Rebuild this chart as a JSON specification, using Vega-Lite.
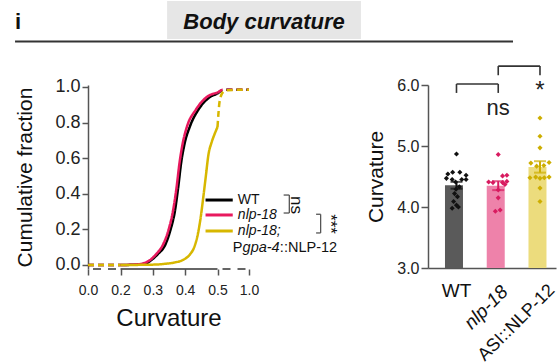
{
  "$schema": "https://vega.github.io/schema/vega-lite/v6.json",
  "padding": 0,
  "background": "white",
  "config": {
    "font": "Liberation Sans",
    "view": {"stroke": null},
    "axis": {"grid": false, "domainColor": "#555", "tickColor": "#555", "labelColor": "#222", "titleColor": "#111", "titleFontWeight": "normal", "domainWidth": 1.5, "tickWidth": 1.5, "labelOverlap": false, "labelFlush": false}
  },
  "datasets": {
    "curves": [
      {"strain": "WT", "part": "lo", "curvature": 0, "fraction": 0},
      {"strain": "WT", "part": "lo", "curvature": 0.2, "fraction": 0},
      {"strain": "WT", "part": "mid", "curvature": 0.2, "fraction": 0},
      {"strain": "WT", "part": "mid", "curvature": 0.25, "fraction": 0.002},
      {"strain": "WT", "part": "mid", "curvature": 0.28, "fraction": 0.01},
      {"strain": "WT", "part": "mid", "curvature": 0.297, "fraction": 0.03},
      {"strain": "WT", "part": "mid", "curvature": 0.315, "fraction": 0.06},
      {"strain": "WT", "part": "mid", "curvature": 0.34, "fraction": 0.12},
      {"strain": "WT", "part": "mid", "curvature": 0.355, "fraction": 0.2},
      {"strain": "WT", "part": "mid", "curvature": 0.368, "fraction": 0.3},
      {"strain": "WT", "part": "mid", "curvature": 0.378, "fraction": 0.43},
      {"strain": "WT", "part": "mid", "curvature": 0.388, "fraction": 0.58},
      {"strain": "WT", "part": "mid", "curvature": 0.398, "fraction": 0.68},
      {"strain": "WT", "part": "mid", "curvature": 0.415, "fraction": 0.78},
      {"strain": "WT", "part": "mid", "curvature": 0.44, "fraction": 0.87},
      {"strain": "WT", "part": "mid", "curvature": 0.478, "fraction": 0.945},
      {"strain": "WT", "part": "mid", "curvature": 0.5, "fraction": 0.962},
      {"strain": "WT", "part": "hi", "curvature": 0.5, "fraction": 0.962},
      {"strain": "WT", "part": "hi", "curvature": 0.55, "fraction": 0.978},
      {"strain": "WT", "part": "hi", "curvature": 0.6, "fraction": 0.984},
      {"strain": "WT", "part": "hi", "curvature": 1.0, "fraction": 0.985},
      {"strain": "nlp-18", "part": "lo", "curvature": 0, "fraction": 0},
      {"strain": "nlp-18", "part": "lo", "curvature": 0.2, "fraction": 0},
      {"strain": "nlp-18", "part": "mid", "curvature": 0.2, "fraction": 0},
      {"strain": "nlp-18", "part": "mid", "curvature": 0.25, "fraction": 0.003},
      {"strain": "nlp-18", "part": "mid", "curvature": 0.275, "fraction": 0.012},
      {"strain": "nlp-18", "part": "mid", "curvature": 0.293, "fraction": 0.03},
      {"strain": "nlp-18", "part": "mid", "curvature": 0.31, "fraction": 0.06},
      {"strain": "nlp-18", "part": "mid", "curvature": 0.333, "fraction": 0.12},
      {"strain": "nlp-18", "part": "mid", "curvature": 0.349, "fraction": 0.2},
      {"strain": "nlp-18", "part": "mid", "curvature": 0.362, "fraction": 0.3},
      {"strain": "nlp-18", "part": "mid", "curvature": 0.373, "fraction": 0.43},
      {"strain": "nlp-18", "part": "mid", "curvature": 0.383, "fraction": 0.58},
      {"strain": "nlp-18", "part": "mid", "curvature": 0.392, "fraction": 0.68},
      {"strain": "nlp-18", "part": "mid", "curvature": 0.406, "fraction": 0.78},
      {"strain": "nlp-18", "part": "mid", "curvature": 0.432, "fraction": 0.87},
      {"strain": "nlp-18", "part": "mid", "curvature": 0.468, "fraction": 0.945},
      {"strain": "nlp-18", "part": "mid", "curvature": 0.5, "fraction": 0.968},
      {"strain": "nlp-18", "part": "hi", "curvature": 0.5, "fraction": 0.968},
      {"strain": "nlp-18", "part": "hi", "curvature": 0.55, "fraction": 0.98},
      {"strain": "nlp-18", "part": "hi", "curvature": 0.58, "fraction": 0.985},
      {"strain": "nlp-18", "part": "hi", "curvature": 1.0, "fraction": 0.985},
      {"strain": "rescue", "part": "lo", "curvature": 0, "fraction": 0},
      {"strain": "rescue", "part": "lo", "curvature": 0.2, "fraction": 0},
      {"strain": "rescue", "part": "mid", "curvature": 0.2, "fraction": 0},
      {"strain": "rescue", "part": "mid", "curvature": 0.3, "fraction": 0.002},
      {"strain": "rescue", "part": "mid", "curvature": 0.344, "fraction": 0.008},
      {"strain": "rescue", "part": "mid", "curvature": 0.37, "fraction": 0.015},
      {"strain": "rescue", "part": "mid", "curvature": 0.395, "fraction": 0.03},
      {"strain": "rescue", "part": "mid", "curvature": 0.415, "fraction": 0.06},
      {"strain": "rescue", "part": "mid", "curvature": 0.428, "fraction": 0.1},
      {"strain": "rescue", "part": "mid", "curvature": 0.44, "fraction": 0.18},
      {"strain": "rescue", "part": "mid", "curvature": 0.449, "fraction": 0.28},
      {"strain": "rescue", "part": "mid", "curvature": 0.456, "fraction": 0.38},
      {"strain": "rescue", "part": "mid", "curvature": 0.464, "fraction": 0.5},
      {"strain": "rescue", "part": "mid", "curvature": 0.472, "fraction": 0.62},
      {"strain": "rescue", "part": "mid", "curvature": 0.482, "fraction": 0.69},
      {"strain": "rescue", "part": "mid", "curvature": 0.492, "fraction": 0.74},
      {"strain": "rescue", "part": "mid", "curvature": 0.5, "fraction": 0.775},
      {"strain": "rescue", "part": "hi", "curvature": 0.5, "fraction": 0.775},
      {"strain": "rescue", "part": "hi", "curvature": 0.53, "fraction": 0.91},
      {"strain": "rescue", "part": "hi", "curvature": 0.56, "fraction": 0.955},
      {"strain": "rescue", "part": "hi", "curvature": 0.59, "fraction": 0.972},
      {"strain": "rescue", "part": "hi", "curvature": 0.65, "fraction": 0.982},
      {"strain": "rescue", "part": "hi", "curvature": 1.0, "fraction": 0.985}
    ],
    "pts": [
      {"genotype": "WT", "curvature": 4.87, "slot": 0},
      {"genotype": "WT", "curvature": 4.54, "slot": -1.8},
      {"genotype": "WT", "curvature": 4.57, "slot": -0.8},
      {"genotype": "WT", "curvature": 4.57, "slot": 0.7},
      {"genotype": "WT", "curvature": 4.52, "slot": 2},
      {"genotype": "WT", "curvature": 4.47, "slot": -2.1},
      {"genotype": "WT", "curvature": 4.45, "slot": -0.9},
      {"genotype": "WT", "curvature": 4.45, "slot": 1.1},
      {"genotype": "WT", "curvature": 4.45, "slot": 2},
      {"genotype": "WT", "curvature": 4.41, "slot": -0.2},
      {"genotype": "WT", "curvature": 4.33, "slot": 0.6},
      {"genotype": "WT", "curvature": 4.29, "slot": -0.1},
      {"genotype": "WT", "curvature": 4.22, "slot": -0.4},
      {"genotype": "WT", "curvature": 4.17, "slot": 0.2},
      {"genotype": "WT", "curvature": 4.09, "slot": -0.6},
      {"genotype": "WT", "curvature": 4.03, "slot": 0},
      {"genotype": "WT", "curvature": 3.98, "slot": -0.9},
      {"genotype": "WT", "curvature": 4.0, "slot": 0.4},
      {"genotype": "nlp-18", "curvature": 4.86, "slot": 0},
      {"genotype": "nlp-18", "curvature": 4.51, "slot": 0.9},
      {"genotype": "nlp-18", "curvature": 4.52, "slot": 1.8},
      {"genotype": "nlp-18", "curvature": 4.41, "slot": -2},
      {"genotype": "nlp-18", "curvature": 4.4, "slot": -1.1},
      {"genotype": "nlp-18", "curvature": 4.4, "slot": 0.9},
      {"genotype": "nlp-18", "curvature": 4.42, "slot": 1.8},
      {"genotype": "nlp-18", "curvature": 4.37, "slot": 1.4},
      {"genotype": "nlp-18", "curvature": 4.28, "slot": 0},
      {"genotype": "nlp-18", "curvature": 4.15, "slot": 0},
      {"genotype": "nlp-18", "curvature": 3.93, "slot": -0.6},
      {"genotype": "nlp-18", "curvature": 3.95, "slot": 0.4},
      {"genotype": "ASI::NLP-12", "curvature": 5.46, "slot": 0},
      {"genotype": "ASI::NLP-12", "curvature": 5.16, "slot": 0},
      {"genotype": "ASI::NLP-12", "curvature": 4.97, "slot": 0},
      {"genotype": "ASI::NLP-12", "curvature": 4.72, "slot": -1.9},
      {"genotype": "ASI::NLP-12", "curvature": 4.67, "slot": -0.7},
      {"genotype": "ASI::NLP-12", "curvature": 4.68, "slot": 0.8},
      {"genotype": "ASI::NLP-12", "curvature": 4.73, "slot": 1.9},
      {"genotype": "ASI::NLP-12", "curvature": 4.48, "slot": -2.1},
      {"genotype": "ASI::NLP-12", "curvature": 4.49, "slot": -0.9},
      {"genotype": "ASI::NLP-12", "curvature": 4.47, "slot": 0},
      {"genotype": "ASI::NLP-12", "curvature": 4.48, "slot": 0.9},
      {"genotype": "ASI::NLP-12", "curvature": 4.49, "slot": 1.9},
      {"genotype": "ASI::NLP-12", "curvature": 4.31, "slot": 0},
      {"genotype": "ASI::NLP-12", "curvature": 4.09, "slot": 0}
    ]
  },
  "bounds": "flush",
  "spacing": 43,
  "vconcat": [
    {
      "width": 469,
      "height": 42,
      "data": {"values": [{}]},
      "layer": [
        {"mark": {"type": "rect", "fill": "white"},
         "encoding": {
           "x": {"datum": 0, "type": "quantitative", "scale": {"domain": [0, 1], "range": [-88, 469]}, "axis": null},
           "x2": {"datum": 1},
           "y": {"datum": 0, "type": "quantitative", "scale": {"domain": [0, 1]}, "axis": null},
           "y2": {"datum": 1}}},
        {"mark": {"type": "rect", "fill": "#e6e6e6"},
         "encoding": {"x": {"datum": 0.3}, "x2": {"datum": 0.648}, "y": {"datum": 0.071}, "y2": {"datum": 0.976}}},
        {"mark": {"type": "text", "text": "Body curvature", "fontSize": 22, "fontWeight": "bold", "fontStyle": "italic", "baseline": "alphabetic", "align": "center", "color": "#111"},
         "encoding": {"x": {"datum": 0.474}, "y": {"datum": 0.3}}},
        {"mark": {"type": "text", "text": "i", "fontSize": 22, "fontWeight": "bold", "baseline": "alphabetic", "align": "left", "color": "#111"},
         "encoding": {"x": {"datum": 0.027}, "y": {"datum": 0.3}}},
        {"mark": {"type": "rule", "color": "#333", "strokeWidth": 2},
         "encoding": {"x": {"datum": 0.027}, "x2": {"datum": 0.921}, "y": {"datum": 0.01}}}
      ]
    },
    {
      "bounds": "flush",
      "spacing": 90,
      "hconcat": [
        {
          "width": 250,
          "height": 184,
          "layer": [
            {"data": {"name": "curves"},
             "mark": {"type": "line", "interpolate": "monotone", "strokeWidth": 2.5},
             "encoding": {
               "x": {"field": "curvature", "type": "quantitative",
                     "scale": {"type": "linear", "domain": [0, 0.2, 0.5, 1.0], "range": [0, 32.5, 129.5, 161], "nice": false, "zero": false},
                     "axis": {"values": [0, 0.2, 0.3, 0.4, 0.5, 1.0], "format": ".1f", "domain": false, "tickSize": 6, "labelFontSize": 14, "labelPadding": 8, "labelOverlap": false, "title": "Curvature", "titleFontSize": 24, "titlePadding": 9}},
               "y": {"field": "fraction", "type": "quantitative",
                     "scale": {"domain": [-0.0225, 1.0112], "nice": false, "zero": false},
                     "axis": {"values": [0, 0.2, 0.4, 0.6, 0.8, 1], "tickCount": 6, "format": ".1f", "tickSize": 6, "labelFontSize": 18, "labelPadding": 2, "labelOverlap": false, "labelBound": false, "title": "Cumulative fraction", "titleFontSize": 21, "titlePadding": 19}},
               "color": {"field": "strain", "type": "nominal", "scale": {"domain": ["WT", "nlp-18", "rescue"], "range": ["#000000", "#e8195e", "#d7b700"]}, "legend": null},
               "strokeDash": {"field": "part", "type": "nominal", "scale": {"domain": ["lo", "mid", "hi"], "range": [[6, 4], [1, 0], [6, 4]]}, "legend": null}
             }},
            {"data": {"values": [{}]}, "mark": {"type": "rule", "color": "#333", "strokeWidth": 1.5},
             "encoding": {"x": {"datum": 0.2}, "x2": {"datum": 0.5}, "y": {"datum": -0.0225}}},
            {"data": {"values": [{}]}, "mark": {"type": "rule", "color": "#333", "strokeWidth": 1.5, "strokeDash": [8, 7], "strokeDashOffset": -5},
             "encoding": {"x": {"datum": 0}, "x2": {"datum": 0.2}, "y": {"datum": -0.0225}}},
            {"data": {"values": [{}]}, "mark": {"type": "rule", "color": "#333", "strokeWidth": 1.5, "strokeDash": [8, 7], "strokeDashOffset": -5},
             "encoding": {"x": {"datum": 0.5}, "x2": {"datum": 1.0}, "y": {"datum": -0.0225}}},
            {"data": {"values": [{}]}, "mark": {"type": "rule", "color": "#000000", "strokeWidth": 3},
             "encoding": {"x": {"datum": 0.463}, "x2": {"datum": 0.742}, "y": {"datum": 0.365}}},
            {"data": {"values": [{}]}, "mark": {"type": "rule", "color": "#e8195e", "strokeWidth": 3},
             "encoding": {"x": {"datum": 0.463}, "x2": {"datum": 0.742}, "y": {"datum": 0.281}}},
            {"data": {"values": [{}]}, "mark": {"type": "rule", "color": "#d7b700", "strokeWidth": 3},
             "encoding": {"x": {"datum": 0.463}, "x2": {"datum": 0.742}, "y": {"datum": 0.191}}},
            {"data": {"values": [{}]}, "mark": {"type": "text", "text": "WT", "fontSize": 14, "align": "left", "baseline": "middle", "color": "#111"},
             "encoding": {"x": {"datum": 0.823}, "y": {"datum": 0.365}}},
            {"data": {"values": [{}]}, "mark": {"type": "text", "text": "nlp-18", "fontSize": 14, "fontStyle": "italic", "align": "left", "baseline": "middle", "color": "#111"},
             "encoding": {"x": {"datum": 0.823}, "y": {"datum": 0.281}}},
            {"data": {"values": [{}]}, "mark": {"type": "text", "text": "nlp-18;", "fontSize": 14, "fontStyle": "italic", "align": "left", "baseline": "middle", "color": "#111"},
             "encoding": {"x": {"datum": 0.823}, "y": {"datum": 0.191}}},
            {"data": {"values": [{}]}, "mark": {"type": "text", "text": "P", "fontSize": 14.5, "align": "left", "baseline": "middle", "color": "#111"},
             "encoding": {"x": {"datum": 0.742}, "y": {"datum": 0.0955}}},
            {"data": {"values": [{}]}, "mark": {"type": "text", "text": "gpa-4", "fontSize": 14.5, "fontStyle": "italic", "align": "left", "baseline": "middle", "color": "#111"},
             "encoding": {"x": {"datum": 0.898}, "y": {"datum": 0.0955}}},
            {"data": {"values": [{}]}, "mark": {"type": "text", "text": "::NLP-12", "fontSize": 14.5, "align": "left", "baseline": "middle", "color": "#111"},
             "encoding": {"x": {"datum": 1.49}, "y": {"datum": 0.0955}}},
            {"data": {"values": [{}]}, "mark": {"type": "rule", "color": "#555", "strokeWidth": 1.3},
             "encoding": {"x": {"datum": 1.55}, "x2": {"datum": 1.64}, "y": {"datum": 0.393}}},
            {"data": {"values": [{}]}, "mark": {"type": "rule", "color": "#555", "strokeWidth": 1.3},
             "encoding": {"x": {"datum": 1.55}, "x2": {"datum": 1.64}, "y": {"datum": 0.292}}},
            {"data": {"values": [{}]}, "mark": {"type": "rule", "color": "#555", "strokeWidth": 1.3},
             "encoding": {"x": {"datum": 1.64}, "y": {"datum": 0.292}, "y2": {"datum": 0.393}}},
            {"data": {"values": [{}]}, "mark": {"type": "text", "text": "ns", "fontSize": 17, "angle": 90, "align": "center", "baseline": "middle", "color": "#111"},
             "encoding": {"x": {"datum": 1.75}, "y": {"datum": 0.337}}},
            {"data": {"values": [{}]}, "mark": {"type": "rule", "color": "#555", "strokeWidth": 1.3},
             "encoding": {"x": {"datum": 2.065}, "x2": {"datum": 2.137}, "y": {"datum": 0.285}}},
            {"data": {"values": [{}]}, "mark": {"type": "rule", "color": "#555", "strokeWidth": 1.3},
             "encoding": {"x": {"datum": 2.065}, "x2": {"datum": 2.137}, "y": {"datum": 0.18}}},
            {"data": {"values": [{}]}, "mark": {"type": "rule", "color": "#555", "strokeWidth": 1.3},
             "encoding": {"x": {"datum": 2.137}, "y": {"datum": 0.18}, "y2": {"datum": 0.285}}},
            {"data": {"values": [{}]}, "mark": {"type": "text", "text": "***", "fontSize": 17, "angle": 90, "align": "center", "baseline": "middle", "color": "#111"},
             "encoding": {"x": {"datum": 2.29}, "y": {"datum": 0.23}}}
          ]
        },
        {
          "width": 128,
          "height": 183,
          "layer": [
            {"data": {"name": "pts"},
             "mark": {"type": "bar"},
             "encoding": {
               "x": {"field": "genotype", "type": "nominal",
                     "scale": {"type": "band", "domain": ["WT", "nlp-18", "ASI::NLP-12"], "paddingInner": 0.449, "paddingOuter": 0.2575, "align": 0.79},
                     "axis": {"title": null, "labels": false, "ticks": false}},
               "y": {"aggregate": "mean", "field": "curvature", "type": "quantitative", "title": "Curvature",
                     "scale": {"domain": [3, 6], "nice": false, "zero": false},
                     "axis": {"values": [3, 4, 5, 6], "format": ".1f", "tickSize": 7, "labelFontSize": 16, "labelPadding": 2, "title": "Curvature", "titleFontSize": 21, "titlePadding": 10}},
               "y2": {"datum": 3},
               "color": {"field": "genotype", "type": "nominal", "scale": {"domain": ["WT", "nlp-18", "ASI::NLP-12"], "range": ["#5a5a5a", "#ee82aa", "#ecdc7d"]}, "legend": null}
             }},
            {"data": {"name": "pts"},
             "mark": {"type": "point", "filled": true, "shape": "diamond", "size": 26, "opacity": 1},
             "encoding": {
               "x": {"field": "genotype", "type": "nominal", "title": null},
               "xOffset": {"field": "slot", "type": "quantitative", "scale": {"domain": [-2.4, 2.4]}},
               "y": {"field": "curvature", "type": "quantitative", "title": "Curvature"},
               "color": {"field": "genotype", "type": "nominal", "scale": {"domain": ["WT", "nlp-18", "ASI::NLP-12"], "range": ["#111111", "#d81b60", "#cdae00"]}, "legend": null}
             }},
            {"data": {"name": "pts"},
             "mark": {"type": "errorbar", "extent": "stderr", "ticks": {"size": 12}, "thickness": 2},
             "encoding": {
               "x": {"field": "genotype", "type": "nominal", "title": null},
               "y": {"field": "curvature", "type": "quantitative", "title": "Curvature"},
               "color": {"field": "genotype", "type": "nominal", "scale": {"domain": ["WT", "nlp-18", "ASI::NLP-12"], "range": ["#111111", "#d81b60", "#cdae00"]}, "legend": null}
             }},
            {"data": {"values": [{}]}, "mark": {"type": "rule", "color": "#333", "strokeWidth": 1.6},
             "encoding": {"x": {"datum": "WT"}, "x2": {"datum": "nlp-18"}, "y": {"datum": 6.016}}},
            {"data": {"values": [{}]}, "mark": {"type": "rule", "color": "#333", "strokeWidth": 1.6},
             "encoding": {"x": {"datum": "WT"}, "y": {"datum": 6.016}, "y2": {"datum": 5.87}}},
            {"data": {"values": [{}]}, "mark": {"type": "rule", "color": "#333", "strokeWidth": 1.6},
             "encoding": {"x": {"datum": "nlp-18"}, "y": {"datum": 6.016}, "y2": {"datum": 5.87}}},
            {"data": {"values": [{}]}, "mark": {"type": "rule", "color": "#333", "strokeWidth": 1.6},
             "encoding": {"x": {"datum": "nlp-18"}, "x2": {"datum": "ASI::NLP-12"}, "y": {"datum": 6.31}}},
            {"data": {"values": [{}]}, "mark": {"type": "rule", "color": "#333", "strokeWidth": 1.6},
             "encoding": {"x": {"datum": "nlp-18"}, "y": {"datum": 6.31}, "y2": {"datum": 6.16}}},
            {"data": {"values": [{}]}, "mark": {"type": "rule", "color": "#333", "strokeWidth": 1.6},
             "encoding": {"x": {"datum": "ASI::NLP-12"}, "y": {"datum": 6.31}, "y2": {"datum": 6.16}}},
            {"data": {"values": [{}]}, "mark": {"type": "text", "text": "ns", "fontSize": 22, "align": "center", "baseline": "middle", "color": "#222"},
             "encoding": {"x": {"datum": "nlp-18"}, "y": {"datum": 5.62}}},
            {"data": {"values": [{}]}, "mark": {"type": "text", "text": "*", "fontSize": 24, "align": "center", "baseline": "alphabetic", "color": "#222"},
             "encoding": {"x": {"datum": "ASI::NLP-12"}, "y": {"datum": 5.79}}},
            {"data": {"values": [{}]}, "mark": {"type": "text", "text": "WT", "fontSize": 19, "align": "center", "baseline": "middle", "color": "#111"},
             "encoding": {"x": {"datum": "WT"}, "y": {"datum": 2.63}}},
            {"data": {"values": [{}]}, "mark": {"type": "text", "text": "nlp-18", "fontSize": 19, "fontStyle": "italic", "align": "right", "baseline": "middle", "angle": -45, "dx": 4.6, "dy": 4.6, "color": "#111"},
             "encoding": {"x": {"datum": "nlp-18"}, "y": {"datum": 2.66}}},
            {"data": {"values": [{}]}, "mark": {"type": "text", "text": "ASI::NLP-12", "fontSize": 18, "align": "right", "baseline": "middle", "angle": -45, "dx": 8.5, "dy": 8.5, "color": "#111"},
             "encoding": {"x": {"datum": "ASI::NLP-12"}, "y": {"datum": 2.68}}}
          ],
          "resolve": {"scale": {"color": "independent"}}
        }
      ]
    }
  ]
}
